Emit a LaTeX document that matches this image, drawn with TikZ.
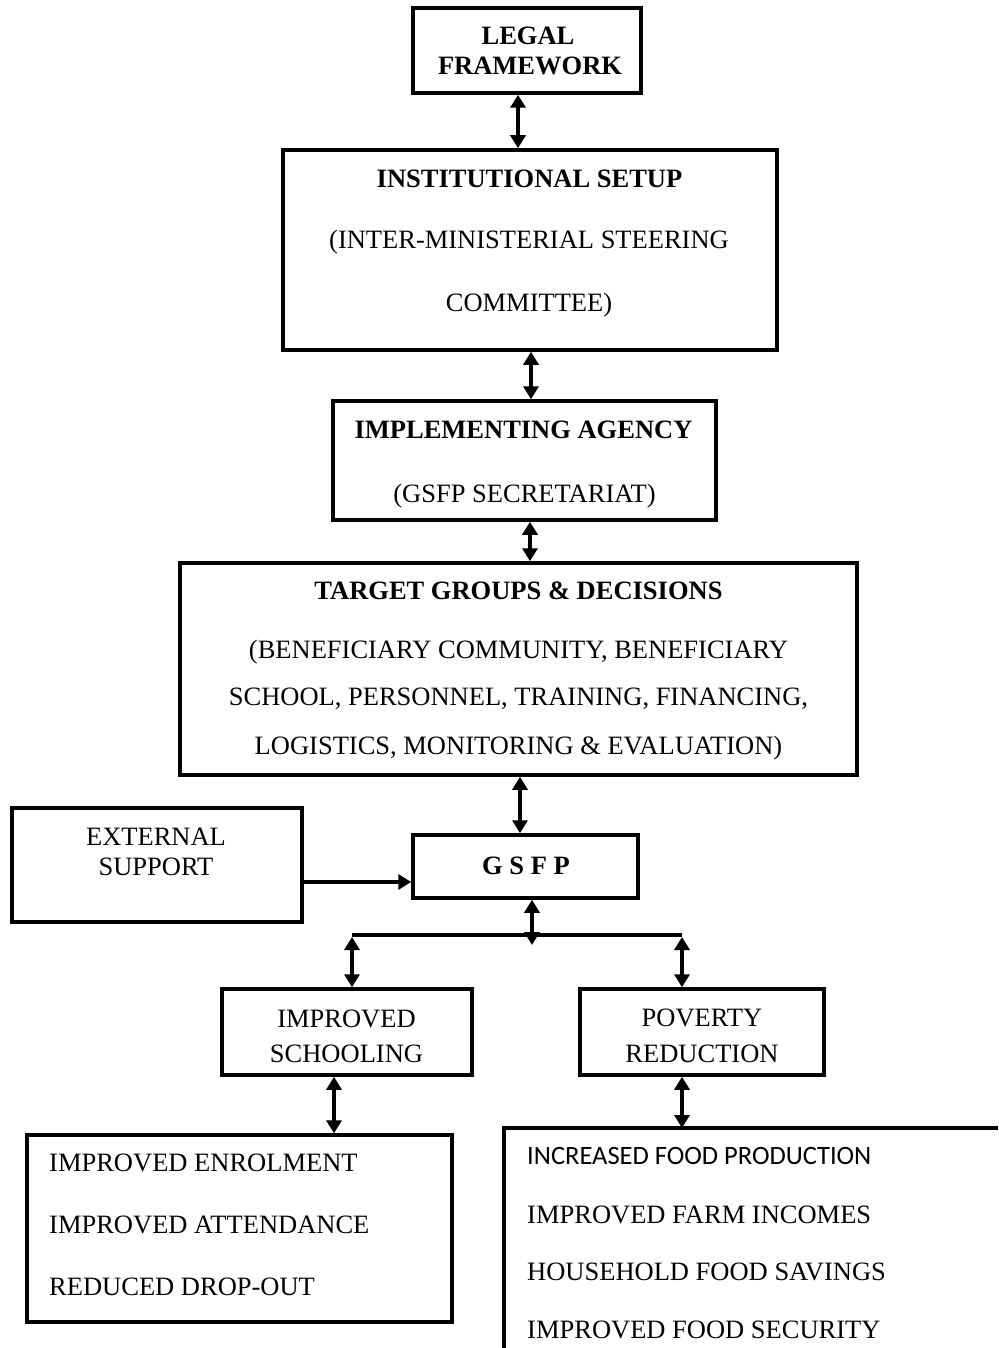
\documentclass[tikz,border=0pt]{standalone}
\usepackage{fontspec}
\setmainfont{Liberation Serif}
\newfontfamily\calib{Carlito}
\usetikzlibrary{arrows.meta}
\begin{document}
\begin{tikzpicture}[x=1pt,y=-1pt,
  box/.style={draw, line width=3.5pt, inner sep=0pt, rectangle},
  txt/.style={anchor=base, inner sep=0pt, font=\fontsize{26.5}{30}\selectfont},
  btxt/.style={anchor=base, inner sep=0pt, font=\fontsize{26.5}{30}\selectfont\bfseries},
  ltxt/.style={anchor=base west, inner sep=0pt, font=\fontsize{26.5}{30}\selectfont},
  dbl/.style={{Triangle[length=13pt,width=15pt]}-{Triangle[length=13pt,width=15pt]}, line width=3.5pt},
  sgl/.style={-{Triangle[length=13pt,width=15pt]}, line width=3.5pt}]
\useasboundingbox (0,0) rectangle (998,1348);

% boxes
\node[box, minimum width=228pt, minimum height=85pt] (LF) at (527,50.5) {};
\node[box, minimum width=494pt, minimum height=200pt] (IS) at (530,250) {};
\node[box, minimum width=383pt, minimum height=119pt] (IA) at (524.5,460.5) {};
\node[box, minimum width=677pt, minimum height=212pt] (TG) at (518.5,669) {};
\node[box, minimum width=225pt, minimum height=63pt] (GS) at (525.5,866.5) {};
\node[box, minimum width=290pt, minimum height=114pt] (ES) at (157,865) {};
\node[box, minimum width=250pt, minimum height=86pt] (ISC) at (347,1032) {};
\node[box, minimum width=244pt, minimum height=86pt] (PR) at (702,1032) {};
\node[box, minimum width=425pt, minimum height=187pt] (BL) at (239.5,1228.5) {};
\coordinate (brtop) at (682,1128);
\coordinate (brtr) at (998,1128);
\coordinate (brtl) at (504,1128);
\coordinate (brbl) at (504,1348);
\draw[line width=3.5pt] (brtr) -- (brtl) -- (brbl);

% texts
\node[btxt] (lf1) at (528,45) {LEGAL};
\node[btxt] (lf2) at (530,75) {FRAMEWORK};
\node[btxt] (is1) at (529.5,188) {INSTITUTIONAL SETUP};
\node[txt] (is2) at (529,249) {(INTER-MINISTERIAL STEERING};
\node[txt] (is3) at (529,311) {COMMITTEE)};
\node[btxt] (ia1) at (523.5,438) {IMPLEMENTING AGENCY};
\node[txt] (ia2) at (524.5,502) {(GSFP SECRETARIAT)};
\node[btxt] (tg1) at (518.5,599) {TARGET GROUPS \& DECISIONS};
\node[txt] (tg2) at (518.5,658) {(BENEFICIARY COMMUNITY, BENEFICIARY};
\node[txt] (tg3) at (518.5,705) {SCHOOL, PERSONNEL, TRAINING, FINANCING,};
\node[txt] (tg4) at (518.5,754) {LOGISTICS, MONITORING \& EVALUATION)};
\node[btxt] (gs1) at (526,874) {G S F P};
\node[txt] (es1) at (156,845) {EXTERNAL};
\node[txt] (es2) at (156,875) {SUPPORT};
\node[txt] (isc1) at (346.5,1027) {IMPROVED};
\node[txt] (isc2) at (346.5,1062) {SCHOOLING};
\node[txt] (pr1) at (702,1026) {POVERTY};
\node[txt] (pr2) at (702,1062) {REDUCTION};
\node[ltxt] (bl1) at (49,1171) {IMPROVED ENROLMENT};
\node[ltxt] (bl2) at (49,1233) {IMPROVED ATTENDANCE};
\node[ltxt] (bl3) at (49,1295) {REDUCED DROP-OUT};
\node[ltxt, font=\fontsize{26.5}{30}\calib] (br1) at (527,1164) {INCREASED FOOD PRODUCTION};
\node[ltxt] (br2) at (527,1223) {IMPROVED FARM INCOMES};
\node[ltxt] (br3) at (527,1280) {HOUSEHOLD FOOD SAVINGS};
\node[ltxt] (br4) at (527,1338) {IMPROVED FOOD SECURITY};

% connector coordinates
\coordinate (c1) at (518,0);
\coordinate (c2) at (531,0);
\coordinate (c3) at (530,0);
\coordinate (c4) at (520,0);
\coordinate (c6) at (334,0);
\coordinate (ea) at (0,882);
\coordinate (jl) at (352,935);
\coordinate (jr) at (682,935);
\coordinate (jm) at (532,945);
\coordinate (jl2) at (352,937);
\coordinate (jr2) at (682,937);

% connectors
\draw[dbl] (LF.south -| c1) -- (IS.north -| c1);
\draw[dbl] (IS.south -| c2) -- (IA.north -| c2);
\draw[dbl] (IA.south -| c3) -- (TG.north -| c3);
\draw[dbl] (TG.south -| c4) -- (GS.north -| c4);
\draw[sgl] (ES.east |- ea) -- (GS.west |- ea);
\draw[line width=3.5pt] (jl) -- (jr);
\draw[dbl] (GS.south -| jm) -- (jm);
\draw[dbl] (jl2) -- (ISC.north -| jl2);
\draw[dbl] (jr2) -- (PR.north -| jr2);
\draw[dbl] (ISC.south -| c6) -- (BL.north -| c6);
\draw[dbl] (PR.south -| brtop) -- (brtop);
\end{tikzpicture}
\end{document}
